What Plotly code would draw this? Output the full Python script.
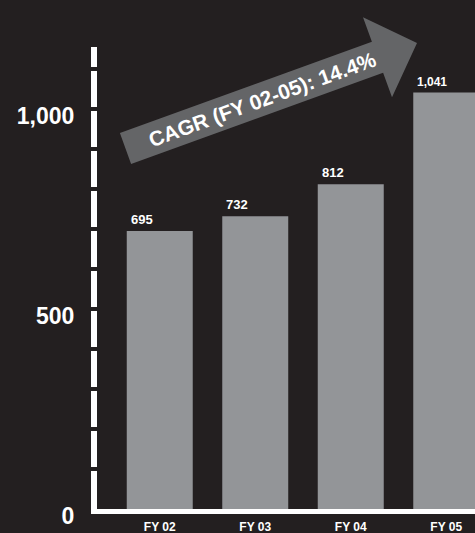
import math
import plotly.graph_objects as go

categories = ["FY 02", "FY 03", "FY 04", "FY 05"]
values = [695, 732, 812, 1041]
value_labels = ["695", "732", "812", "1,041"]
y_tick_vals = [0, 500, 1000]
y_tick_text = ["0", "500", "1,000"]
gap_vals = list(range(100, 1200, 100))
cagr_text = "CAGR (FY 02-05): 14.4%"

BG = "#231f20"
BAR = "#939598"
ARROW = "#646567"

# arrow geometry, in pixels relative to the plot area's bottom-left corner (y up)
tail = (28.5, 360.5)
tip = (320.0, 466.0)
body_half = 16.5
head_half = 42.5
head_len = 42.0

dx, dy = tip[0] - tail[0], tip[1] - tail[1]
L = math.hypot(dx, dy)
ux, uy = dx / L, dy / L
nx, ny = -uy, ux
bx, by = tip[0] - ux * head_len, tip[1] - uy * head_len
pts = [
    (tail[0] + nx * body_half, tail[1] + ny * body_half),
    (bx + nx * body_half, by + ny * body_half),
    (bx + nx * head_half, by + ny * head_half),
    tip,
    (bx - nx * head_half, by - ny * head_half),
    (bx - nx * body_half, by - ny * body_half),
    (tail[0] - nx * body_half, tail[1] - ny * body_half),
]
arrow_path = "M" + " L".join(f"{px:.1f},{py:.1f}" for px, py in pts) + " Z"

fig = go.Figure()
fig.add_trace(go.Bar(x=categories, y=values, marker=dict(color=BAR, line=dict(width=0)),
                     hoverinfo="skip"))

annotations = []
for c, v, t in zip(categories, values, value_labels):
    annotations.append(dict(x=c, y=v, xref="x", yref="y", text=t, showarrow=False,
                            xanchor="left", yanchor="bottom", xshift=-31, yshift=2,
                            font=dict(family="Liberation Sans, Arial", size=13 if len(t) < 4 else 12,
                                      color="white", weight="bold")))

annotations.append(dict(x=0.4357, y=0.8870, xref="paper", yref="paper", text=cagr_text,
                        showarrow=False, textangle=-20, xanchor="center", yanchor="middle",
                        font=dict(family="Liberation Sans, Arial", size=21, color="white",
                                  weight="bold")))

shapes = [dict(type="path", xref="paper", yref="paper", xsizemode="pixel", ysizemode="pixel",
               xanchor=0, yanchor=0, path=arrow_path, fillcolor=ARROW,
               line=dict(width=0), layer="above")]
for g in gap_vals:
    shapes.append(dict(type="line", xref="paper", xsizemode="pixel", xanchor=0,
                       x0=-9, x1=1, yref="y", y0=g, y1=g,
                       line=dict(color=BG, width=4), layer="above"))

fig.update_layout(
    width=475, height=533,
    margin=dict(l=97, r=0, t=47, b=24),
    paper_bgcolor=BG, plot_bgcolor=BG,
    showlegend=False,
    bargap=0.309,
    annotations=annotations,
    shapes=shapes,
    xaxis=dict(range=[-0.657, 3.301], showline=True, linecolor="white", linewidth=5,
               showgrid=False, zeroline=False, ticks="",
               tickfont=dict(family="Liberation Sans, Arial", size=12, color="white", weight="bold"),
               ticklabelstandoff=3),
    yaxis=dict(range=[0, 1155], showline=True, linecolor="white", linewidth=6,
               showgrid=False, zeroline=False, ticks="",
               tickvals=y_tick_vals, ticktext=y_tick_text,
               tickfont=dict(family="Liberation Sans, Arial", size=23, color="white", weight="bold"),
               ticklabelstandoff=12, ticklabelshift=7),
)

fig.write_html("out.html", config={"displayModeBar": False},
               post_script="document.body.style.margin='0';document.body.style.background='#231f20';")
